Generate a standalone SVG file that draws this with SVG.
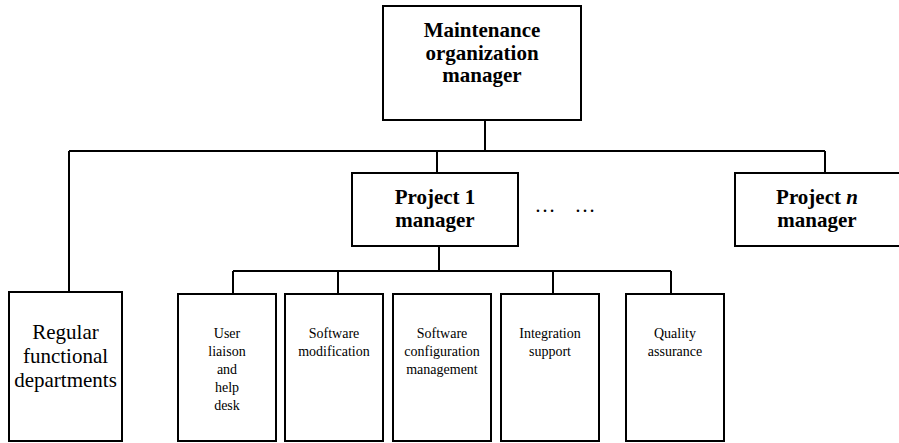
<svg xmlns="http://www.w3.org/2000/svg" width="899" height="443" viewBox="0 0 899 443">
<style>
.box{fill:#fff;stroke:#000;stroke-width:2}
.ln{stroke:#000;stroke-width:2;fill:none}
text{font-family:'Liberation Serif',serif;fill:#000;text-anchor:middle}
.b{font-weight:bold;font-size:21px}
.r{font-size:21px}
.s{font-size:14px}
</style>
<rect width="899" height="443" fill="#fff"/>
<g id="connectors">
<path class="ln" d="M485 120V151M69 151H825M69 151V292M437 151V173M825 151V173"/>
<path class="ln" d="M439 246V271M233 271H671M233 271V294M338 271V294M553 271V294M671 271V294"/>
</g>
<g id="maint">
<rect class="box" x="383" y="6" width="198" height="114"/>
<text class="b" x="482" y="37">Maintenance</text>
<text class="b" x="482" y="60">organization</text>
<text class="b" x="482" y="82">manager</text>
</g>
<g id="proj1">
<rect class="box" x="352" y="173" width="166" height="73"/>
<text class="b" x="435" y="204">Project 1</text>
<text class="b" x="435" y="227">manager</text>
</g>
<g id="dots">
<text class="r" x="545" y="212">…</text>
<text class="r" x="585" y="212">…</text>
</g>
<g id="projn">
<rect class="box" x="735" y="173" width="175" height="73"/>
<text class="b" x="817" y="204">Project <tspan font-style="italic">n</tspan></text>
<text class="b" x="817" y="227">manager</text>
</g>
<g id="regular">
<rect class="box" x="9" y="292" width="113" height="149"/>
<text class="r" x="65.5" y="339">Regular</text>
<text class="r" x="65.5" y="363">functional</text>
<text class="r" x="65.5" y="387">departments</text>
</g>
<g id="user">
<rect class="box" x="178" y="294" width="98" height="147"/>
<text class="s" x="227" y="338">User</text>
<text class="s" x="227" y="356">liaison</text>
<text class="s" x="227" y="374">and</text>
<text class="s" x="227" y="392">help</text>
<text class="s" x="227" y="410">desk</text>
</g>
<g id="swmod">
<rect class="box" x="285" y="294" width="98" height="147"/>
<text class="s" x="334" y="338">Software</text>
<text class="s" x="334" y="356">modification</text>
</g>
<g id="scm">
<rect class="box" x="393" y="294" width="98" height="147"/>
<text class="s" x="442" y="338">Software</text>
<text class="s" x="442" y="356">configuration</text>
<text class="s" x="442" y="374">management</text>
</g>
<g id="integ">
<rect class="box" x="501" y="294" width="98" height="147"/>
<text class="s" x="550" y="338">Integration</text>
<text class="s" x="550" y="356">support</text>
</g>
<g id="qa">
<rect class="box" x="626" y="294" width="98" height="147"/>
<text class="s" x="675" y="338">Quality</text>
<text class="s" x="675" y="356">assurance</text>
</g>
</svg>
